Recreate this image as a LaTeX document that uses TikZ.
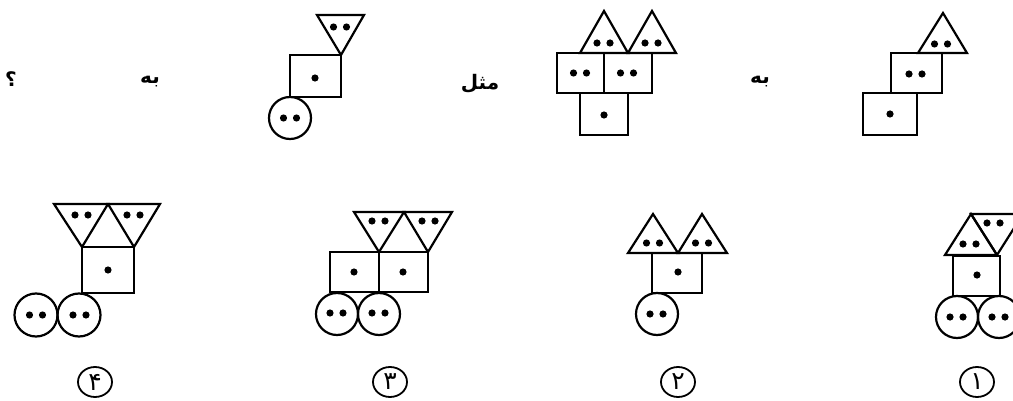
\documentclass[tikz,border=0pt]{standalone}
\usepackage{fontspec}
\usetikzlibrary{shapes.geometric}
\newfontfamily\arabicfont[Script=Arabic]{DejaVu Sans}
\TeXXeTstate=1
\newcommand\blackdot[2]{\fill[dotfill] (#1,#2) circle[radius=3.6pt];}
\newcommand\twodots[2]{\fill[dotfill] (#1,#2) ++(-6.5,0) circle[radius=3.6pt] ++(13,0) circle[radius=3.6pt];}
\begin{document}
\begin{tikzpicture}[x=1pt,y=-1pt,
  shp/.style={draw=black,line width=2.2pt,line join=miter},
  dotfill/.style={fill=black},
  txt/.style={inner sep=0pt,font=\arabicfont\bfseries\fontsize{20}{22}\selectfont},
  numlabel/.style={draw=black,line width=1.8pt,ellipse,minimum width=34pt,minimum height=30pt,inner sep=0pt,font=\arabicfont\fontsize{25}{26}\selectfont}]
\useasboundingbox (0,0) rectangle (1013,401);
\clip (0,0) rectangle (1013,401);
\fill[white] (0,0) rectangle (1013,401);

% ---------- top right figure A ----------
\draw[shp] (918,53) -- (967,53) -- (943,13) -- cycle;
\twodots{941}{44}
\draw[shp] (891,53) rectangle (942,93);
\twodots{915.5}{74}
\draw[shp] (863,93) rectangle (917,135);
\blackdot{890}{114}

\node[txt] (be1) at (760,82) {\beginR به\endR};

% ---------- top middle figure B ----------
\draw[shp] (580,53) -- (628,53) -- (604,11) -- cycle;
\draw[shp] (628,53) -- (676,53) -- (652,11) -- cycle;
\twodots{603.5}{43}
\twodots{651.5}{43}
\draw[shp] (557,53) rectangle (604,93);
\draw[shp] (604,53) rectangle (652,93);
\twodots{580}{73}
\twodots{627}{73}
\draw[shp] (580,93) rectangle (628,135);
\blackdot{604}{115}

\node[txt] (mesl) at (480,84) {\beginR مثل\endR};

% ---------- top left figure C ----------
\draw[shp] (317,15) -- (364,15) -- (341,55) -- cycle;
\twodots{340}{27}
\draw[shp] (290,55) rectangle (341,97);
\blackdot{315}{78}
\draw[shp] (290,118) circle[radius=21pt];
\twodots{290}{118}

\node[txt] (be2) at (150,82) {\beginR به\endR};
\node[txt] (q) at (11,79) {\beginR ؟\endR};

% ---------- option 4 ----------
\draw[shp] (54,204) -- (108,204) -- (82,247) -- cycle;
\draw[shp] (108,204) -- (160,204) -- (134,247) -- cycle;
\twodots{81.5}{215}
\twodots{133.5}{215}
\draw[shp] (82,247) rectangle (134,293);
\blackdot{108}{270}
\draw[shp] (36,315) circle[radius=21.5pt];
\draw[shp] (79,315) circle[radius=21.5pt];
\twodots{36}{315}
\twodots{79.5}{315}
\node[numlabel] (o4) at (95,382) {۴};

% ---------- option 3 ----------
\draw[shp] (354,212) -- (404,212) -- (379,252) -- cycle;
\draw[shp] (404,212) -- (452,212) -- (428,252) -- cycle;
\twodots{378.5}{221}
\twodots{428.5}{221}
\draw[shp] (330,252) rectangle (379,292);
\draw[shp] (379,252) rectangle (428,292);
\blackdot{354}{272}
\blackdot{403}{272}
\draw[shp] (337,314) circle[radius=21pt];
\draw[shp] (379,314) circle[radius=21pt];
\twodots{336.5}{313}
\twodots{378.5}{313}
\node[numlabel] (o3) at (390,382) {۳};

% ---------- option 2 ----------
\draw[shp] (628,253) -- (678,253) -- (653,214) -- cycle;
\draw[shp] (678,253) -- (727,253) -- (702,214) -- cycle;
\twodots{653}{243}
\twodots{702}{243}
\draw[shp] (652,253) rectangle (702,293);
\blackdot{678}{272}
\draw[shp] (657,314) circle[radius=21pt];
\twodots{656.5}{314}
\node[numlabel] (o2) at (678,382) {۲};

% ---------- option 1 ----------
\draw[shp] (945,255) -- (997,255) -- (971,214) -- cycle;
\draw[shp] (971,214) -- (1023,214) -- (997,255) -- cycle;
\twodots{969.5}{244}
\twodots{993.5}{223}
\draw[shp] (953,256) rectangle (1000,296);
\blackdot{977}{275}
\draw[shp] (957,317) circle[radius=21pt];
\draw[shp] (999,317) circle[radius=21pt];
\twodots{956.5}{317}
\twodots{998.5}{317}
\node[numlabel] (o1) at (977,382) {۱};
\end{tikzpicture}
\end{document}
